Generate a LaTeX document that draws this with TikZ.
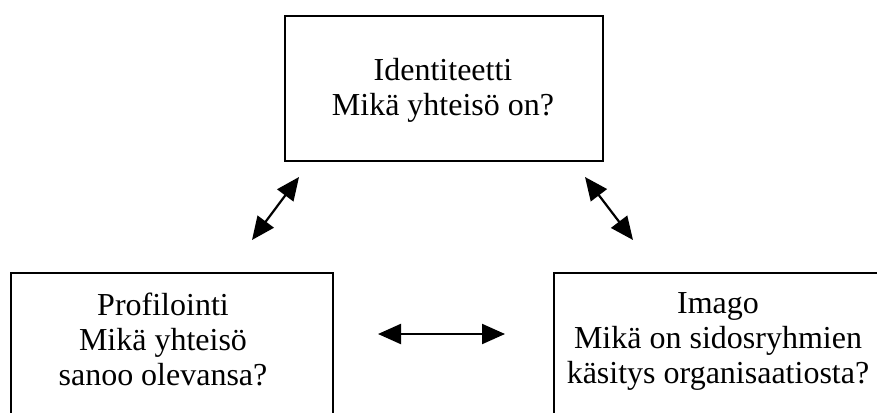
\documentclass[tikz,border=0pt]{standalone}
\usepackage{fontspec}
\setmainfont{Liberation Serif}
\usetikzlibrary{arrows.meta}
\begin{document}
\begin{tikzpicture}[x=1pt,y=-1pt,
  box/.style={draw, line width=2.4pt, inner sep=0pt, anchor=north west},
  boxtext/.style={align=center, font=\fontsize{32}{35}\selectfont, anchor=base, inner sep=0pt},
  twoway/.style={line width=2.2pt, {Triangle[length=23pt,width=20pt]}-{Triangle[length=23pt,width=20pt]}}]
\useasboundingbox (0,0) rectangle (877,412);
\clip (0,0) rectangle (877,412);

% boxes (the lower two run past the page edge)
\node[box, minimum width=318pt, minimum height=145pt] (identity) at (284,15) {};
\node[box, minimum width=322pt, minimum height=200pt] (profile) at (10,272) {};
\node[box, minimum width=400pt, minimum height=200pt] (image) at (553,272) {};

% box texts (anchored on the baseline of their last line)
\node[boxtext] (identitytext) at (443,115) {Identiteetti\\Mikä yhteisö on?};
\node[boxtext] (profiletext) at (163,385) {Profilointi\\Mikä yhteisö\\sanoo olevansa?};
\node[boxtext] (imagetext) at (718,383) {Imago\\Mikä on sidosryhmien\\käsitys organisaatiosta?};

% two-way arrows between the boxes
\coordinate (pa) at (252,240); \coordinate (pb) at (299,177);
\coordinate (ia) at (633,240); \coordinate (ib) at (585,177);
\coordinate (ha) at (378,334); \coordinate (hb) at (505,334);
\draw[twoway] (pa) -- (pb);
\draw[twoway] (ia) -- (ib);
\draw[twoway] (ha) -- (hb);
\end{tikzpicture}
\end{document}
